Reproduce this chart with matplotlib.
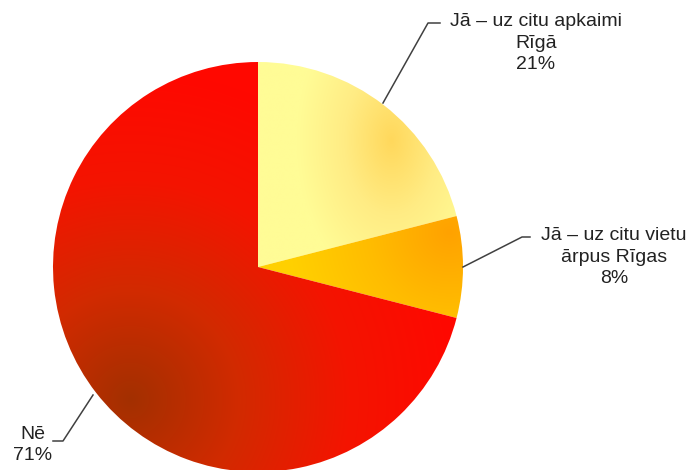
import numpy as np
import matplotlib
matplotlib.use("Agg")
import matplotlib.pyplot as plt
from matplotlib.colors import LinearSegmentedColormap

# ==============================
# DATA
# ==============================
labels = ["Jā – uz citu apkaimi\nRīgā", "Jā – uz citu vietu\nārpus Rīgas", "Nē"]
shares = [21, 8, 71]

W, H = 692, 470
CX, CY, R = 258, 203, 205   # pie centre / radius in pixel units (y up)

fig = plt.figure(figsize=(W / 100, H / 100), dpi=100)
ax = fig.add_axes([0, 0, 1, 1])

wedges, _ = ax.pie(shares, startangle=90, counterclock=False,
                   center=(CX, CY), radius=R,
                   wedgeprops=dict(linewidth=0, edgecolor="none"))
ax.set_xlim(0, W)
ax.set_ylim(0, H)
ax.set_aspect("auto")
ax.axis("off")

# ==============================
# GRADIENT FILLS (clipped to wedges)
# ==============================
gx = np.linspace(CX - R - 2, CX + R + 2, 420)
gy = np.linspace(CY - R - 2, CY + R + 2, 420)
XX, YY = np.meshgrid(gx, gy)
ext = (gx[0], gx[-1], gy[0], gy[-1])

grads = [
    # (focus x, focus y, spread x, spread y, colours from focus outward)
    (392, 470 - 140, 95, 150, ["#FFD85C", "#FFEC84", "#FFFC96"]),
    (450, 470 - 232, 160, 160, ["#FFA200", "#FFBC00", "#FFD000"]),
    (130, 470 - 400, 330, 330, ["#A33000", "#D22A00", "#F41400", "#FF0800"]),
]

for w, (fx, fy, sx, sy, cols) in zip(wedges, grads):
    cmap = LinearSegmentedColormap.from_list("g", cols)
    t = np.clip(np.hypot((XX - fx) / sx, (YY - fy) / sy), 0, 1)
    w.set_facecolor("none")
    im = ax.imshow(cmap(t), extent=ext, origin="lower",
                   interpolation="bilinear", zorder=1, aspect="auto")
    im.set_clip_path(w)

# ==============================
# LABELS + LEADER LINES
# ==============================
pcts = [f"{s}%" for s in shares]
txt_pos = [(536, 470 - 43), (614, 470 - 257), (33, 470 - 445)]
leaders = [
    [(383, 103), (428, 23), (440, 23)],
    [(463, 267), (522, 237), (530, 237)],
    [(93, 395), (63, 441), (53, 441)],
]

for lab, pct, (tx, ty), pts in zip(labels, pcts, txt_pos, leaders):
    ax.text(tx, ty, f"{lab}\n{pct}", ha="center", va="center",
            multialignment="center", fontsize=14, linespacing=1.32,
            family="Liberation Sans", color="#222222", zorder=5)
    xs = [p[0] for p in pts]
    ys = [H - p[1] for p in pts]
    ax.plot(xs, ys, color="#404040", lw=1.1, zorder=4)

fig.savefig("out.png", dpi=100)
